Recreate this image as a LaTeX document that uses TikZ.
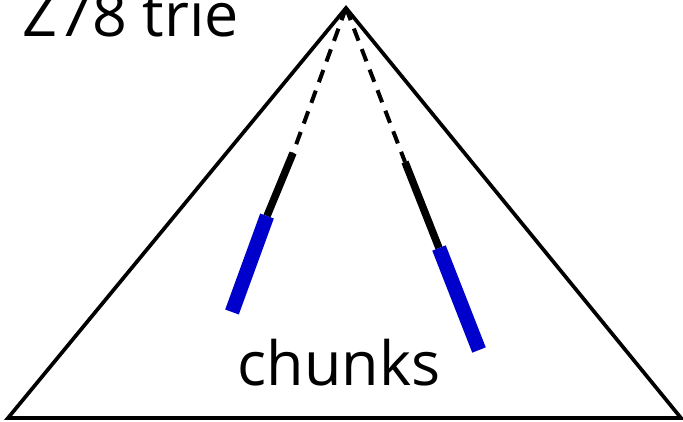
\documentclass[tikz,border=0pt]{standalone}
\usepackage{fontspec}
\setmainfont{Open Sans}
\definecolor{chunkblue}{RGB}{0,0,204}
\begin{document}
\begin{tikzpicture}[x=1pt,y=1pt,
  tri/.style={draw=black,line width=3.7pt,line join=miter},
  path/.style={draw=black,line width=4pt,dash pattern=on 13pt off 9pt},
  seg/.style={draw=black,line width=7.5pt},
  chunk/.style={draw=chunkblue,line width=14.5pt},
  lbl/.style={font=\fontsize{61}{63}\selectfont,inner sep=0pt}]
\clip (0,0) rectangle (683,421);
\useasboundingbox (0,0) rectangle (683,421);
\coordinate (apex) at (346,413);
\coordinate (bl) at (8,3);
\coordinate (br) at (681,3);
\draw[tri] (apex) -- (bl) -- (br) -- cycle;
\coordinate (l1) at (293,268);
\coordinate (l2) at (267,205);
\coordinate (l3) at (232,109);
\coordinate (r1) at (405,259);
\coordinate (r2) at (439,173);
\coordinate (r3) at (479,71);
\draw[path] (apex) -- (l1);
\draw[path] (apex) -- (r1);
\draw[seg] (l1) -- (l2);
\draw[seg] (r1) -- (r2);
\draw[chunk] (l2) -- (l3);
\draw[chunk] (r2) -- (r3);
\node[lbl,anchor=base east] (title) at (239,384) {Z78 trie};
\node[lbl,anchor=base] (chunks) at (339,36) {chunks};
\end{tikzpicture}
\end{document}
